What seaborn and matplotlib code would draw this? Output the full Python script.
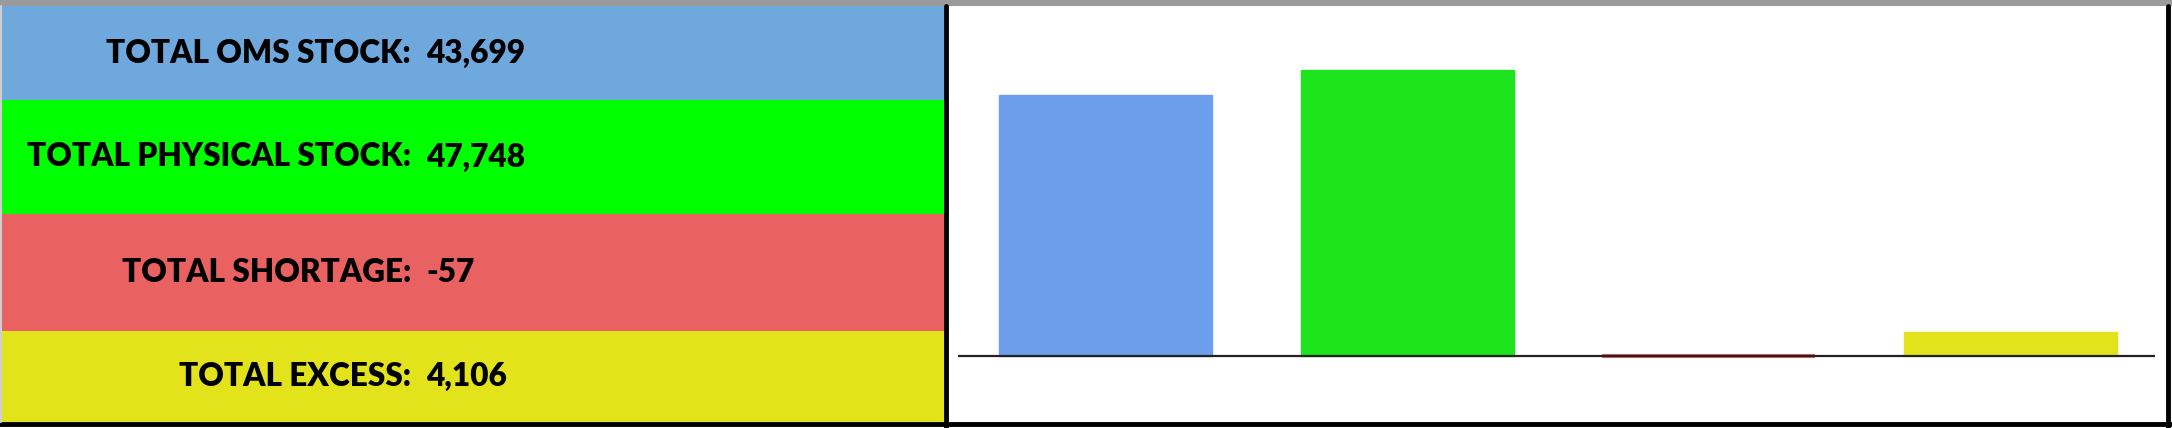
import matplotlib
matplotlib.use("Agg")
import matplotlib.pyplot as plt
import seaborn as sns
import pandas as pd

# данные
labels = ["TOTAL OMS STOCK:", "TOTAL PHYSICAL STOCK:", "TOTAL SHORTAGE:", "TOTAL EXCESS:"]
categories = ["OMS", "PHYSICAL", "SHORTAGE", "EXCESS"]
values = [43699, 47748, -57, 4106]
row_colors = ["#6FA8DC", "#00FF00", "#E96161", "#E2E31A"]
bar_colors = ["#6D9EEB", "#1EE41E", "#E06666", "#E2E31A"]

sns.set_theme(style="white")
plt.rcParams['font.family'] = ['Lato', 'DejaVu Sans']

W, H = 2172, 428
fig = plt.figure(figsize=(W / 100, H / 100), dpi=100)

# фон / таблица слева (в пиксельных координатах)
bg = fig.add_axes([0, 0, 1, 1])
bg.set_xlim(0, W)
bg.set_ylim(H, 0)
bg.axis('off')
bg.axhspan(0, 6, color="#9B9B9B", lw=0)
bounds = [6, 100, 214, 331, 422]

# подбор размера шрифта: самая длинная подпись ~385 px
weight = 'heavy'
renderer = fig.canvas.get_renderer()
probe = bg.text(0, 0, max(labels, key=len), fontsize=25, fontweight=weight)
w = probe.get_window_extent(renderer).width
fs = 25 * 385 / w
probe.remove()

for i, (lab, val) in enumerate(zip(labels, values)):
    y0, y1 = bounds[i], bounds[i + 1]
    bg.fill_between([0, 944], y0, y1, color=row_colors[i], lw=0)
    yc = (y0 + y1) / 2
    bg.text(411, yc, lab, ha='right', va='center', fontsize=fs, fontweight=weight, color='black')
    bg.text(426, yc, f"{val:,}", ha='left', va='center', fontsize=fs, fontweight=weight, color='black')
# рамки
bg.plot([946, 946], [6, 428], color='black', lw=3.5)
bg.plot([0, W], [424, 424], color='black', lw=3.5)
bg.plot([2168, 2168], [6, 428], color='black', lw=3.5)
bg.plot([1, 1], [6, 422], color='#CFCFCF', lw=1.5)

# график справа
ax = fig.add_axes([958 / W, (H - 416) / H, (2155 - 958) / W, (416 - 21) / H])
ax.patch.set_alpha(0)
df = pd.DataFrame({'cat': categories, 'val': values})
sns.barplot(data=df, x='cat', y='val', hue='cat', palette=bar_colors, width=0.706,
            legend=False, ax=ax, saturation=1)
for p, c, v in zip(ax.patches, bar_colors, values):
    p.set_edgecolor(c)
    p.set_linewidth(3 if v < 0 else 1)
ax.axhline(0, color='#222222', lw=1.6, zorder=5)
ax.set_xlim(-0.49, 3.48)
ax.set_ylim(-10000, 56000)
ax.axis('off')

plt.savefig('out.png', dpi=100)
